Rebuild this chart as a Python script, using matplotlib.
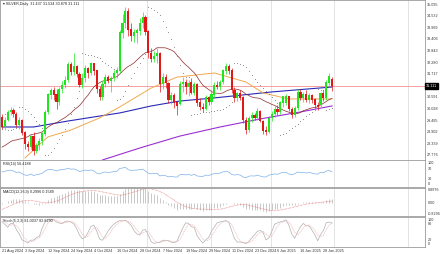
import numpy as np
import pandas as pd
import matplotlib
matplotlib.use("Agg")
import matplotlib.pyplot as plt

plt.rcParams["font.family"] = ["Liberation Sans Narrow", "Liberation Sans", "DejaVu Sans"]

# daily bars, 21 Aug 2024 .. 31 Jan 2025
opens = [29.60, 29.15, 29.45, 29.85, 29.95, 29.75, 29.25, 29.45, 28.85, 28.30,
         28.15, 28.65, 27.95, 28.25, 28.45, 28.80, 29.85, 30.70, 30.90, 30.70,
         30.35, 30.95, 31.15, 31.40, 32.15, 31.80, 32.05, 31.70, 31.15, 31.50,
         31.95, 31.75, 32.20, 31.85, 30.95, 30.60, 31.20, 31.55, 31.35, 31.50,
         31.75, 31.85, 33.70, 34.15, 34.75, 33.85, 33.55, 33.70, 33.80, 34.15,
         34.45, 33.75, 32.70, 32.45, 32.55, 32.70, 31.20, 31.55, 31.25, 30.45,
         30.65, 30.30, 30.25, 31.20, 31.30, 31.05, 31.30, 30.80, 31.20, 30.30,
         30.10, 30.00, 30.55, 30.35, 30.70, 31.15, 31.05, 31.30, 31.85, 32.05,
         31.85, 30.90, 30.55, 30.75, 30.55, 29.45, 29.00, 29.55, 29.70, 29.55,
         29.90, 29.40, 28.95, 28.90, 29.55, 29.75, 30.00, 29.85, 30.30, 30.30,
         30.60, 30.00, 29.70, 30.05, 30.80, 30.55, 30.70, 30.45, 30.65, 30.45,
         30.20, 30.20, 30.75, 30.55, 31.25, 31.437]
highs = [29.75, 29.60, 29.95, 30.10, 30.05, 29.85, 29.60, 29.50, 28.95, 28.45,
         28.75, 28.90, 28.35, 28.60, 28.90, 29.95, 30.80, 31.00, 31.05, 30.95,
         31.05, 31.35, 31.60, 32.30, 32.30, 32.70, 32.15, 31.80, 31.75, 32.15,
         32.05, 32.30, 32.25, 31.90, 31.10, 31.35, 31.70, 31.65, 31.60, 31.90,
         32.05, 33.85, 34.60, 34.95, 34.90, 34.15, 33.90, 33.95, 34.40, 34.70,
         34.55, 33.85, 32.95, 32.80, 32.95, 32.75, 31.75, 31.70, 31.30, 30.85,
         30.80, 30.40, 31.35, 31.55, 31.45, 31.40, 31.50, 31.30, 31.25, 30.55,
         30.30, 30.70, 30.65, 30.90, 31.30, 31.35, 31.40, 31.95, 32.25, 32.20,
         32.00, 31.05, 30.85, 30.90, 30.65, 29.60, 29.65, 29.85, 29.80, 30.05,
         29.95, 29.45, 29.20, 29.65, 29.90, 30.15, 30.20, 30.40, 30.60, 30.75,
         30.65, 30.10, 30.15, 30.95, 30.95, 30.85, 30.90, 30.80, 30.75, 30.55,
         30.35, 30.85, 30.90, 31.40, 31.75, 31.534]
lows = [29.05, 29.00, 29.40, 29.70, 29.60, 29.15, 29.05, 28.75, 28.05, 27.95,
        28.05, 27.75, 27.85, 28.00, 28.25, 28.70, 29.75, 30.50, 30.45, 30.00,
        30.20, 30.80, 31.00, 31.30, 31.65, 31.65, 31.55, 31.05, 31.00, 31.30,
        31.50, 31.65, 31.65, 30.80, 30.45, 30.45, 31.05, 31.25, 30.85, 31.35,
        31.50, 31.75, 33.45, 33.95, 33.55, 33.30, 33.25, 33.20, 33.60, 33.95,
        33.60, 32.50, 32.30, 32.30, 32.25, 30.85, 30.95, 31.00, 30.30, 30.25,
        30.05, 29.70, 30.20, 30.85, 30.75, 30.65, 30.75, 30.70, 30.15, 29.95,
        29.85, 29.95, 30.20, 30.25, 30.60, 30.95, 30.90, 31.20, 31.70, 31.70,
        30.80, 30.35, 30.40, 30.45, 29.30, 28.80, 28.90, 29.35, 29.45, 29.45,
        29.35, 28.80, 28.75, 28.85, 29.40, 29.60, 29.70, 29.75, 30.10, 30.20,
        29.90, 29.55, 29.60, 29.95, 30.45, 30.35, 30.35, 30.30, 30.30, 30.05,
        29.95, 30.10, 30.40, 30.45, 31.15, 30.878]
closes = [29.15, 29.45, 29.85, 29.95, 29.75, 29.25, 29.45, 28.85, 28.30, 28.15,
          28.65, 27.95, 28.25, 28.45, 28.80, 29.85, 30.70, 30.90, 30.70, 30.35,
          30.95, 31.15, 31.40, 32.15, 31.80, 32.05, 31.70, 31.15, 31.50, 31.95,
          31.75, 32.20, 31.85, 30.95, 30.60, 31.20, 31.55, 31.35, 31.50, 31.75,
          31.85, 33.70, 34.15, 34.75, 33.85, 33.55, 33.70, 33.80, 34.15, 34.45,
          33.75, 32.70, 32.45, 32.55, 32.70, 31.20, 31.55, 31.25, 30.45, 30.65,
          30.30, 30.15, 31.20, 31.30, 31.05, 31.25, 30.80, 31.20, 30.30, 30.10,
          30.00, 30.55, 30.35, 30.70, 31.15, 31.05, 31.30, 31.85, 32.05, 31.85,
          30.90, 30.55, 30.75, 30.55, 29.45, 29.00, 29.55, 29.70, 29.55, 29.90,
          29.40, 28.95, 28.90, 29.55, 29.75, 30.00, 29.85, 30.30, 30.60, 30.60,
          30.00, 29.70, 30.05, 30.80, 30.55, 30.70, 30.45, 30.65, 30.45, 30.20,
          30.10, 30.75, 30.55, 31.30, 31.60, 31.111]

# closes before 21 Aug (indicator warm-up)
pre_close = [29.45, 29.55, 30.35, 31.20, 30.85, 30.80, 31.05, 31.25, 30.75, 30.85,
             31.10, 30.35, 29.95, 29.25, 29.25, 29.15, 29.20, 27.95, 28.00, 27.95,
             28.50, 28.95, 28.60, 28.45, 27.35, 27.20, 26.75, 27.45, 27.50, 27.90,
             27.85, 27.55, 28.40, 29.00, 29.15, 29.45]

# slow moving averages (bar index, price)
ma_blue_bar = [0, 11, 23, 34, 41, 52, 62, 74, 94, 115]
ma_blue = [29.13, 29.13, 29.42, 29.66, 29.81, 30.15, 30.39, 30.54, 30.83, 31.07]
ma_orange_bar = [8, 16, 24, 34, 41, 52, 61, 74, 85, 91, 100, 115]
ma_orange = [27.63, 28.65, 28.98, 29.57, 30.10, 31.02, 31.55, 31.75, 31.31, 30.78, 30.49, 30.49]
ma_purple_bar = [35, 48, 62, 76, 90, 104, 115]
ma_purple = [27.53, 28.11, 28.69, 29.13, 29.52, 29.86, 30.15]

date_bars = [0, 8, 16, 24, 32, 40, 48, 56, 64, 72, 80, 88, 96, 104, 112]
date_labels = ["21 Aug 2024", "3 Sep 2024", "12 Sep 2024", "24 Sep 2024", "4 Oct 2024",
               "16 Oct 2024", "28 Oct 2024", "7 Nov 2024", "19 Nov 2024", "29 Nov 2024",
               "11 Dec 2024", "23 Dec 2024", "6 Jan 2025", "16 Jan 2025", "28 Jan 2025"]
price_ticks = [35.095, 34.532, 33.969, 33.406, 32.843, 32.280, 31.717,
               30.591, 30.028, 29.465, 28.902, 28.339, 27.776]
last_price = 31.111

o = np.array(opens); h = np.array(highs); l = np.array(lows); c = np.array(closes)
n = len(c)
idx = np.arange(n)
npre = len(pre_close)
allc = pd.Series(pre_close + closes)
allh = pd.Series(pre_close + highs)
alll = pd.Series(pre_close + lows)

sma20 = allc.rolling(20).mean().values[npre:]

# RSI 14
d = allc.diff()
up = d.clip(lower=0).ewm(alpha=1/14, adjust=False).mean()
dn = (-d.clip(upper=0)).ewm(alpha=1/14, adjust=False).mean()
rsi = (100 - 100 / (1 + up / dn)).values[npre:]

# MACD 12,26,9
macd = allc.ewm(span=12, adjust=False).mean() - allc.ewm(span=26, adjust=False).mean()
sig = macd.rolling(9).mean()
macd = macd.values[npre:]; sig = sig.values[npre:]

# Stochastic 5,3,3
ll = alll.rolling(5).min(); hh = allh.rolling(5).max()
k = 100 * (allc - ll).rolling(3).sum() / (hh - ll).rolling(3).sum()
ksig = k.rolling(3).mean()
k = k.values[npre:]; ksig = ksig.values[npre:]

# parabolic SAR
def psar(hi, lo, step=0.02, amax=0.2):
    s = np.zeros(len(hi)); bull = True; af = step; ep = hi[0]; s[0] = lo[0]
    for i in range(1, len(hi)):
        v = s[i-1] + af * (ep - s[i-1])
        if bull:
            v = min(v, lo[i-1], lo[max(i-2, 0)])
            if lo[i] < v:
                bull = False; v = ep; ep = lo[i]; af = step
            elif hi[i] > ep:
                ep = hi[i]; af = min(af + step, amax)
        else:
            v = max(v, hi[i-1], hi[max(i-2, 0)])
            if hi[i] > v:
                bull = True; v = ep; ep = hi[i]; af = step
            elif lo[i] < ep:
                ep = lo[i]; af = min(af + step, amax)
        s[i] = v
    return s

sar = psar(h, l)

W, H = 440, 254
fig = plt.figure(figsize=(4.4, 2.54), dpi=100)
fig.patch.set_facecolor("white")

def mkax(top, bot):
    return fig.add_axes([0.0, 1 - bot / H, 425 / W, (bot - top) / H])

ax = mkax(0, 160)
ax_rsi = mkax(160, 187)
ax_macd = mkax(188, 216)
ax_st = mkax(217, 247)

xlim = (-0.7, 147.4)
grid_bars = [7.3, 28.2, 50.5, 72.8, 93.7, 115.7, 141.5]
fs = 2.7
tc = "#333333"
for a in [ax, ax_rsi, ax_macd, ax_st]:
    a.set_xlim(*xlim)
    for sp in a.spines.values():
        sp.set_color("#9a9a9a"); sp.set_linewidth(0.6)
    for g in grid_bars:
        a.axvline(g, color="#d8d8d8", lw=0.5, zorder=0)
    a.yaxis.tick_right()
    a.tick_params(axis="y", length=0, labelsize=fs, pad=1.5, colors=tc)
    a.tick_params(axis="x", length=0, labelbottom=False)

# main panel
ax.set_ylim(27.529, 35.289)
ax.axhline(last_price, color="#f4a0a0", lw=0.7, zorder=1)
ax.plot(ma_purple_bar, ma_purple, color="#9b30d0", lw=0.8, zorder=2)
ax.plot(ma_blue_bar, ma_blue, color="#2a2ab8", lw=0.8, zorder=2)
ax.plot(ma_orange_bar, ma_orange, color="#f0a850", lw=0.7, zorder=2)
ax.plot(idx, sma20, color="#8b2a2a", lw=0.5, zorder=2)
ax.scatter(idx, sar, s=0.45, color="#8a8a8a", linewidths=0, zorder=2)

col = np.where(c >= o, "#1ee61e", "#e01818")
ax.vlines(idx, l, h, colors=col, lw=0.5, zorder=3)
ax.bar(idx, np.abs(c - o) + 0.02, bottom=np.minimum(o, c), width=0.75, color=col, zorder=4, linewidth=0)

ax.set_yticks(price_ticks)
ax.set_yticklabels([f"{v:.3f}" for v in price_ticks])
ax.text(1.003, last_price, f"{last_price:.3f}", transform=ax.get_yaxis_transform(),
        fontsize=fs, color="white", va="center", ha="left",
        bbox=dict(boxstyle="square,pad=0.25", fc="black", ec="black"), clip_on=False)
ax.text(0.006, 0.985, "\u25be SILVER,Daily  31.437 31.534 30.878 31.111", transform=ax.transAxes,
        fontsize=fs, va="top", ha="left", color="#222222")


def side_labels(a, vals, texts):
    lo, hi = a.get_ylim()
    for v, t in zip(vals, texts):
        va = "center"
        if v >= hi - (hi - lo) * 0.08:
            va = "top"
        elif v <= lo + (hi - lo) * 0.08:
            va = "bottom"
        a.text(1.006, v, t, transform=a.get_yaxis_transform(), fontsize=fs,
               color=tc, va=va, ha="left", clip_on=False)
    a.set_yticks([])


# RSI
ax_rsi.set_ylim(-4, 104)
ax_rsi.plot(idx, rsi, color="#7fb0e8", lw=0.5)
side_labels(ax_rsi, [100, 70, 30, 0], ["100", "70", "30", "0"])
ax_rsi.text(0.006, 0.93, "RSI(14) 56.4188", transform=ax_rsi.transAxes, fontsize=fs, va="top", color="#222222")

# MACD
ax_macd.set_ylim(-0.8296, 0.8976)
ax_macd.vlines(idx, 0, macd, colors="#b4b4b4", lw=0.5)
ax_macd.plot(idx, sig, color="#e87070", lw=0.5, ls=(0, (1, 1)))
side_labels(ax_macd, [0.8976, 0.0, -0.8296], ["0.8976", "0.00", "-0.8296"])
ax_macd.text(0.006, 0.93, "MACD(12,26,9) 0.2996 0.1589", transform=ax_macd.transAxes, fontsize=fs, va="top", color="#222222")

# Stochastic
ax_st.set_ylim(-4, 104)
ax_st.plot(idx, k, color="#b0b0b0", lw=0.5)
ax_st.plot(idx, ksig, color="#f0b8b8", lw=0.5, ls=(0, (2, 1)))
side_labels(ax_st, [100, 80, 20, 0], ["100", "80", "20", "0"])
ax_st.text(0.006, 0.93, "Stoch(5,3,3) 81.0037 82.8290", transform=ax_st.transAxes, fontsize=fs, va="top", color="#222222")

ax_st.set_xticks(date_bars)
ax_st.set_xticklabels(date_labels, ha="left")
ax_st.tick_params(axis="x", labelbottom=True, labelsize=fs, pad=1.2, colors=tc)

fig.savefig("out.png", dpi=100)
